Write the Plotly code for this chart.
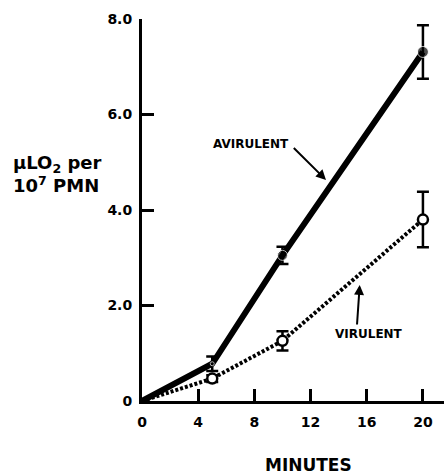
import plotly.graph_objects as go

minutes = [0, 5, 10, 20]
avirulent = [0, 0.78, 3.05, 7.31]
avirulent_err = [0, 0.15, 0.18, 0.56]
virulent = [0, 0.47, 1.26, 3.80]
virulent_err = [0, 0.07, 0.2, 0.58]

x_ticks = [0, 4, 8, 12, 16, 20]
x_ticktext = ["0", "4", "8", "12", "16", "20"]
y_ticks = [0, 2, 4, 6, 8]
y_ticktext = ["0", "2.0", "4.0", "6.0", "8.0"]

FONT = "DejaVu Sans"

fig = go.Figure()

fig.add_trace(go.Scatter(
    x=minutes, y=virulent, mode="lines",
    line=dict(color="black", width=4, dash="3px,2px"),
    showlegend=False, hoverinfo="skip",
))
fig.add_trace(go.Scatter(
    x=minutes[1:], y=virulent[1:], mode="markers",
    marker=dict(symbol="circle", size=10, color="white", line=dict(color="black", width=2.5)),
    error_y=dict(type="data", array=virulent_err[1:], color="black", thickness=2.5, width=6),
    showlegend=False,
))
fig.add_trace(go.Scatter(
    x=minutes, y=avirulent, mode="lines",
    line=dict(color="black", width=6),
    showlegend=False, hoverinfo="skip",
))
fig.add_trace(go.Scatter(
    x=minutes[1:], y=avirulent[1:], mode="markers",
    marker=dict(symbol="circle", size=[4, 10, 11], color="black"),
    error_y=dict(type="data", array=avirulent_err[1:], color="black", thickness=2.5, width=6),
    showlegend=False,
))

tfont = dict(family=FONT, size=14, color="black", weight="bold")

fig.update_layout(
    width=444, height=475,
    margin=dict(l=142, r=0, t=19, b=74),
    paper_bgcolor="white", plot_bgcolor="white",
    font=dict(family=FONT, color="black", size=14, weight="bold"),
    xaxis=dict(
        range=[0, 21.5], showgrid=False, zeroline=False,
        showline=True, linecolor="black", linewidth=3,
        ticks="inside", ticklen=12, tickwidth=2.5, tickcolor="black",
        tickvals=x_ticks, ticktext=x_ticktext, tickfont=tfont,
        ticklabelstandoff=6,
    ),
    yaxis=dict(
        range=[0, 8], showgrid=False, zeroline=False,
        showline=True, linecolor="black", linewidth=3,
        ticks="inside", ticklen=12, tickwidth=2.5, tickcolor="black",
        tickvals=y_ticks, ticktext=y_ticktext, tickfont=tfont,
        ticklabelstandoff=4,
    ),
    annotations=[
        dict(x=7.76, y=5.39, xref="x", yref="y", text="AVIRULENT", showarrow=False,
             font=dict(size=12, family=FONT, weight="bold")),
        dict(x=13.1, y=4.63, ax=10.7, ay=5.33, xref="x", yref="y", axref="x", ayref="y",
             text="", showarrow=True, arrowhead=2, arrowsize=1, arrowwidth=2,
             arrowcolor="black"),
        dict(x=16.19, y=1.40, xref="x", yref="y", text="VIRULENT", showarrow=False,
             font=dict(size=12, family=FONT, weight="bold")),
        dict(x=15.5, y=2.43, ax=15.3, ay=1.57, xref="x", yref="y", axref="x", ayref="y",
             text="", showarrow=True, arrowhead=2, arrowsize=1, arrowwidth=2,
             arrowcolor="black"),
        dict(x=-0.434, y=0.594, xref="paper", yref="paper", xanchor="left", yanchor="middle",
             text="μLO<sub>2</sub> per<br>10<sup>7</sup> PMN", showarrow=False, align="left",
             font=dict(size=18, family=FONT, weight="bold")),
        dict(x=0.55, y=-0.168, xref="paper", yref="paper", xanchor="center", yanchor="middle",
             text="MINUTES", showarrow=False,
             font=dict(size=17, family=FONT, weight="bold")),
    ],
)

fig.write_html("out.html", config={"displayModeBar": False},
               post_script="document.body.style.margin='0';")
